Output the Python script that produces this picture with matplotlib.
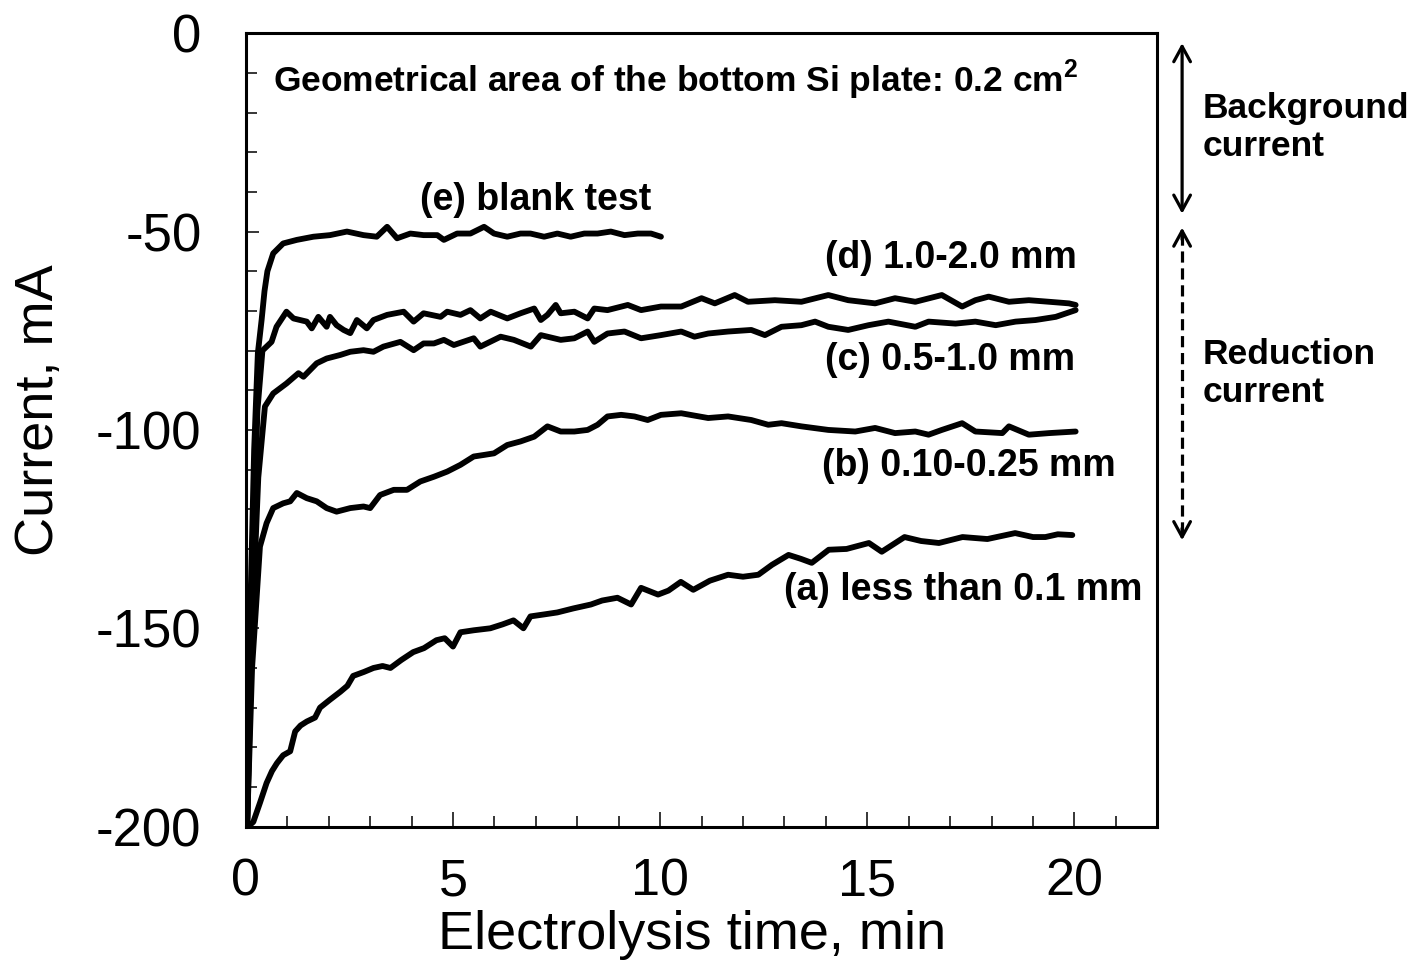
import matplotlib
matplotlib.use("Agg")
import matplotlib.pyplot as plt
from matplotlib.ticker import MultipleLocator

plt.rcParams["font.family"] = ["Liberation Sans", "DejaVu Sans"]
plt.rcParams["axes.unicode_minus"] = False
plt.rcParams["mathtext.fontset"] = "custom"
plt.rcParams["mathtext.rm"] = "Liberation Sans:bold"
plt.rcParams["mathtext.bf"] = "Liberation Sans:bold"

# (a) less than 0.1 mm
t_a = [0.05, 0.18, 0.34, 0.5, 0.63, 0.75, 0.9, 1.07, 1.19, 1.32, 1.47, 1.67, 1.79, 2.03,
       2.28, 2.45, 2.59, 2.85, 3.08, 3.3, 3.49, 3.75, 4.04, 4.3, 4.6, 4.8, 5.0, 5.18, 5.5,
       5.9, 6.2, 6.46, 6.7, 6.87, 7.2, 7.52, 7.9, 8.33, 8.6, 8.97, 9.3, 9.54, 9.95, 10.2,
       10.5, 10.8, 11.2, 11.64, 12.0, 12.37, 12.7, 13.1, 13.4, 13.66, 14.07, 14.5, 15.04,
       15.35, 15.9, 16.3, 16.73, 17.3, 17.9, 18.57, 19.0, 19.3, 19.6, 19.95]
i_a = [-200, -198.8, -194, -189, -186, -184, -182, -181, -176, -174.5, -173.5, -172.5, -170, -168,
       -166, -164.5, -162, -161, -160, -159.5, -160, -158, -156, -155, -153, -152.5, -154.6, -151, -150.5,
       -150, -149, -148, -150, -147, -146.5, -146, -145, -144, -143, -142.3, -144, -139.8, -141.5, -140.5,
       -138.3, -140.3, -138, -136.5, -137, -136.5, -134, -131.5, -132.5, -133.5, -130.2, -130, -128.5,
       -130.7, -127, -128, -128.5, -127, -127.5, -126, -127, -127, -126.3, -126.5]

# (b) 0.10-0.25 mm
t_b = [0.03, 0.15, 0.34, 0.5, 0.66, 0.9, 1.07, 1.23, 1.47, 1.71, 1.95, 2.19, 2.52, 2.84,
       3.0, 3.24, 3.57, 3.89, 4.21, 4.54, 4.86, 5.18, 5.5, 5.75, 5.99, 6.31, 6.63, 6.96,
       7.28, 7.6, 7.93, 8.25, 8.49, 8.73, 9.06, 9.38, 9.7, 10.02, 10.51, 11.16, 11.64,
       12.2, 12.61, 12.93, 13.41, 14.06, 14.71, 15.19, 15.67, 16.16, 16.48, 16.8, 17.29,
       17.61, 18.26, 18.42, 18.9, 19.39, 20.03]
i_b = [-200, -160, -129.4, -123.5, -119.7, -118.5, -118.0, -115.9, -117.2, -118.0, -119.7,
       -120.6, -119.7, -119.3, -119.7, -116.4, -115.1, -115.1, -113.0, -111.8, -110.5,
       -108.8, -106.7, -106.3, -105.9, -103.8, -102.9, -101.7, -99.1, -100.4, -100.4, -100,
       -98.7, -96.6, -96.2, -96.6, -97.5, -96.2, -95.8, -97.0, -96.6, -97.5, -98.7, -98.3,
       -99.1, -100, -100.4, -99.5, -100.8, -100.4, -101.2, -100, -98.3, -100.4, -100.8,
       -99.1, -101.2, -100.8, -100.4]

# (c) 0.5-1.0 mm
t_c = [0.03, 0.15, 0.3, 0.46, 0.66, 0.98, 1.27, 1.39, 1.71, 1.95, 2.28, 2.52, 2.84, 3.08,
       3.32, 3.73, 4.05, 4.29, 4.54, 4.78, 5.02, 5.5, 5.66, 6.15, 6.47, 6.88, 7.12, 7.6,
       7.93, 8.25, 8.41, 8.73, 9.14, 9.54, 10.02, 10.51, 10.83, 11.16, 11.64, 12.2, 12.53,
       12.93, 13.41, 13.74, 14.06, 14.54, 15.03, 15.51, 16.16, 16.48, 17.13, 17.61, 18.1,
       18.58, 19.06, 19.55, 20.03]
i_c = [-200, -150, -112, -94.1, -90.8, -88.3, -85.7, -86.6, -83.2, -82.0, -81.1, -80.3,
       -79.9, -80.3, -79.0, -77.8, -79.9, -78.2, -78.2, -77.3, -78.6, -76.9, -79.0, -76.5,
       -77.3, -79.0, -76.1, -77.3, -76.9, -75.2, -77.8, -75.7, -75.2, -76.9, -76.1, -75.2,
       -76.5, -75.7, -75.2, -74.8, -76.1, -74.0, -73.6, -72.7, -74.0, -74.8, -73.6, -72.7,
       -74.0, -72.7, -73.2, -72.7, -73.6, -72.7, -72.3, -71.5, -69.8]

# (d) 1.0-2.0 mm
t_d = [0.03, 0.15, 0.28, 0.4, 0.62, 0.74, 0.98, 1.15, 1.47, 1.59, 1.75, 1.95, 2.03, 2.19,
       2.36, 2.52, 2.68, 2.92, 3.08, 3.41, 3.81, 4.05, 4.29, 4.7, 4.86, 5.18, 5.42, 5.66,
       5.91, 6.31, 6.63, 6.96, 7.12, 7.28, 7.48, 7.6, 7.93, 8.25, 8.41, 8.73, 9.22, 9.54,
       10.02, 10.51, 11.0, 11.32, 11.8, 12.12, 12.77, 13.41, 14.06, 14.54, 15.19, 15.67,
       16.16, 16.8, 17.29, 17.61, 17.93, 18.42, 18.9, 19.39, 19.87, 20.03]
i_d = [-200, -140, -95, -80, -77.8, -74.0, -70.2, -71.9, -72.7, -74.4, -71.5, -74.0, -71.5,
       -73.6, -74.8, -75.6, -72.3, -74.4, -72.3, -71.0, -70.2, -72.7, -70.6, -71.5, -70.2,
       -71.0, -69.8, -71.9, -70.2, -71.9, -70.6, -69.4, -72.3, -71.0, -68.5, -70.6, -70.2,
       -71.9, -69.4, -69.8, -68.5, -69.8, -68.9, -68.9, -66.8, -68.1, -66.0, -67.7, -67.3,
       -67.7, -66.0, -67.3, -68.1, -66.8, -67.7, -66.0, -68.9, -67.3, -66.4, -67.7, -67.3,
       -67.7, -68.1, -68.5]

# (e) blank test
t_e = [0.03, 0.12, 0.2, 0.29, 0.38, 0.45, 0.52, 0.66, 0.9, 1.23, 1.63, 2.03, 2.44, 2.84,
       3.16, 3.41, 3.65, 3.97, 4.29, 4.62, 4.78, 5.1, 5.42, 5.75, 5.99, 6.31, 6.63, 6.87,
       7.2, 7.52, 7.84, 8.17, 8.49, 8.81, 9.14, 9.46, 9.78, 10.02]
i_e = [-200, -140, -105, -80.6, -72.3, -65, -60, -55.5, -53.0, -52.1, -51.3, -50.9, -50.0,
       -50.9, -51.3, -48.8, -51.7, -50.5, -50.9, -50.9, -52.1, -50.5, -50.5, -48.8, -50.5,
       -51.3, -50.5, -50.5, -51.3, -50.5, -51.3, -50.5, -50.5, -50.0, -50.9, -50.5, -50.5,
       -51.3]

curves = [(t_a, i_a), (t_b, i_b), (t_c, i_c), (t_d, i_d), (t_e, i_e)]

labels = ["(a) less than 0.1 mm", "(b) 0.10-0.25 mm", "(c) 0.5-1.0 mm",
          "(d) 1.0-2.0 mm", "(e) blank test"]
label_pos = [(21.65, -140.3, "right"), (21.0, -109.1, "right"), (20.02, -82.4, "right"),
             (20.07, -56.7, "right"), (7.0, -42.0, "center")]

fig = plt.figure(figsize=(14.13, 9.76), dpi=100)
ax = fig.add_axes([0.174, 0.153, 0.645, 0.813])

for t, i in curves:
    ax.plot(t, i, color="black", lw=4.2, solid_joinstyle="round", solid_capstyle="round")

for text, (x, y, ha) in zip(labels, label_pos):
    ax.text(x, y, text, ha=ha, va="center", fontsize=27, fontweight="bold")

ax.text(0.65, -11.8, r"Geometrical area of the bottom Si plate: 0.2 cm$^{\mathbf{2}}$",
        ha="left", va="center", fontsize=25.5, fontweight="bold")

ax.set_xlim(0, 22)
ax.set_ylim(-200, 0)
ax.set_xticks([0, 5, 10, 15, 20])
ax.set_yticks([0, -50, -100, -150, -200])
ax.xaxis.set_minor_locator(MultipleLocator(1))
ax.yaxis.set_minor_locator(MultipleLocator(10))
ax.tick_params(axis="x", which="major", direction="in", length=10.5, width=1.1,
               labelsize=37.5, pad=22, top=False)
ax.tick_params(axis="x", which="minor", direction="in", length=8, width=1.1, top=False)
ax.tick_params(axis="y", which="major", direction="in", length=9, width=1.1,
               labelsize=38, pad=32, right=False)
ax.tick_params(axis="y", which="minor", direction="in", length=8, width=1.1, right=False)
for sp in ax.spines.values():
    sp.set_linewidth(2.2)

ax.set_xlabel("Electrolysis time, min", fontsize=39)
ax.set_ylabel("Current, mA", fontsize=39)
ax.xaxis.set_label_coords(0.49, -0.105)
ax.yaxis.set_label_coords(-0.2, 0.525)

# side annotations: background (solid) / reduction (dashed) current
head = dict(arrowstyle="->,head_length=1.1,head_width=0.6", lw=2.3, color="black",
            shrinkA=0, shrinkB=0)
ax.annotate("", xy=(22.6, -2.5), xytext=(22.6, -45.5), annotation_clip=False,
            arrowprops=dict(head, arrowstyle="<->,head_length=1.1,head_width=0.6"))
ax.plot([22.6, 22.6], [-50.5, -126.5], color="black", lw=2.3, ls=(0, (3.5, 1.8)),
        clip_on=False)
ax.annotate("", xy=(22.6, -49.0), xytext=(22.6, -52.0), annotation_clip=False, arrowprops=head)
ax.annotate("", xy=(22.6, -127.8), xytext=(22.6, -124.8), annotation_clip=False, arrowprops=head)
ax.text(23.1, -23.7, "Background\ncurrent", ha="left", va="center", fontsize=25.5,
        fontweight="bold", linespacing=1.2, clip_on=False)
ax.text(23.1, -85.8, "Reduction\ncurrent", ha="left", va="center", fontsize=25.5,
        fontweight="bold", linespacing=1.2, clip_on=False)

fig.savefig("out.png", dpi=100)
